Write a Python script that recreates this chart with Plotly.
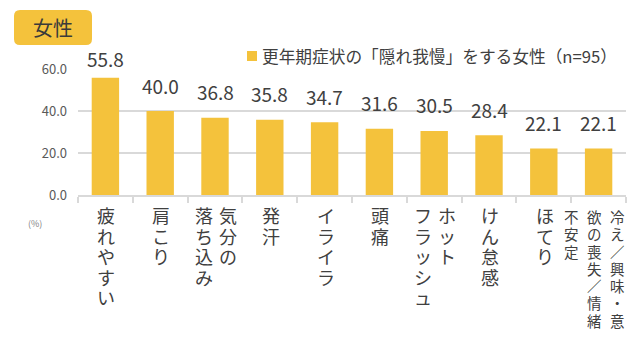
import plotly.graph_objects as go

# ---- data ----
categories = ["疲れやすい", "肩こり", "気分の\n落ち込み", "発汗", "イライラ", "頭痛",
              "ホット\nフラッシュ", "けん怠感", "ほてり", "冷え／興味・意\n欲の喪失／情緒\n不安定"]
values = [55.8, 40.0, 36.8, 35.8, 34.7, 31.6, 30.5, 28.4, 22.1, 22.1]
y_ticks = [0, 20, 40, 60]
series_name = "更年期症状の「隠れ我慢」をする女性（n=95）"
panel_title = "女性"
unit_label = "(%)"

# ---- style ----
W, H = 640, 341
L, R, T, B = 78, 14, 69, 146
PW, PH = W - L - R, H - T - B
BAR = "#F4C23C"
TXT = "#404040"
GRID = "#d9d9d9"
JP = "Noto Sans CJK JP, Noto Sans, sans-serif"
YMAX = 60


def px(x):
    return (x - L) / PW


def py(y):
    return (T + PH - y) / PH


cat_names = [c.replace("\n", "") for c in categories]

fig = go.Figure()
fig.add_trace(go.Bar(x=cat_names, y=values, name=series_name, marker=dict(color=BAR, line=dict(width=0)),
                     width=0.5, showlegend=False, hoverinfo="x+y"))

annotations = []

# data labels
for name, v in zip(cat_names, values):
    bar_top_px = T + PH - v / YMAX * PH
    shift = min(26, bar_top_px - 58.5)
    annotations.append(dict(x=name, y=v, xref="x", yref="y", text=f"{v:.1f}", showarrow=False,
                            xanchor="center", yanchor="middle", yshift=shift,
                            font=dict(family=JP, size=19, color=TXT)))

# vertical (tategaki) category labels: one annotation per column, one character per line.
# line pitch follows the annotation font size (1.3em); glyphs are drawn larger via span
for name, c in zip(cat_names, categories):
    cols = c.split("\n")
    n = len(cols)
    if n >= 3:
        base, glyph, spacing, off, top = 13.3, 14.5, 23, -4, 9
    else:
        base, glyph, spacing, off, top = 15.8, 18, 24, 1, 5
    for i, col in enumerate(cols):
        xs = off + ((n - 1) / 2 - i) * spacing
        txt = "<br>".join(f'<span style="font-size:{glyph}px">{ch}</span>' for ch in col)
        annotations.append(dict(x=name, y=0, xref="x", yref="y", text=txt, showarrow=False,
                                xanchor="center", yanchor="top", xshift=xs, yshift=-top,
                                align="center",
                                font=dict(family=JP, size=base, color=TXT)))

# unit label
annotations.append(dict(x=px(35), y=py(223), xref="paper", yref="paper", text=unit_label, showarrow=False,
                        xanchor="center", yanchor="middle", font=dict(family=JP, size=9, color="#7f7f7f")))

# legend text
annotations.append(dict(x=px(260), y=py(56), xref="paper", yref="paper", text=series_name, showarrow=False,
                        xanchor="left", yanchor="middle", font=dict(family=JP, size=16.7, color=TXT)))

# panel title
annotations.append(dict(x=px(53), y=py(27.5), xref="paper", yref="paper", text=panel_title, showarrow=False,
                        xanchor="center", yanchor="middle", font=dict(family=JP, size=20, color="#3a3a3a")))

# rounded title box
x0, x1, y0, y1, r = 14, 92, 10, 45, 6
path = (f"M {px(x0 + r)},{py(y0)} L {px(x1 - r)},{py(y0)} Q {px(x1)},{py(y0)} {px(x1)},{py(y0 + r)} "
        f"L {px(x1)},{py(y1 - r)} Q {px(x1)},{py(y1)} {px(x1 - r)},{py(y1)} "
        f"L {px(x0 + r)},{py(y1)} Q {px(x0)},{py(y1)} {px(x0)},{py(y1 - r)} "
        f"L {px(x0)},{py(y0 + r)} Q {px(x0)},{py(y0)} {px(x0 + r)},{py(y0)} Z")
shapes = [
    dict(type="path", path=path, xref="paper", yref="paper", fillcolor=BAR, line=dict(width=0), layer="below"),
    dict(type="rect", xref="paper", yref="paper", x0=px(247), x1=px(257), y0=py(51), y1=py(61),
         fillcolor=BAR, line=dict(width=0)),
]

fig.update_layout(
    width=W, height=H, margin=dict(l=L, r=R, t=T, b=B),
    paper_bgcolor="white", plot_bgcolor="white",
    annotations=annotations, shapes=shapes,
    xaxis=dict(type="category", range=[-0.5, len(categories) - 0.5], showline=True, linecolor=GRID,
               linewidth=1.5, ticks="outside", tickson="boundaries", ticklen=6, tickcolor=GRID,
               tickwidth=1.5, showticklabels=False, showgrid=False, fixedrange=True),
    yaxis=dict(range=[0, YMAX], tickvals=y_ticks, tickformat=".1f", showgrid=True, gridcolor=GRID,
               gridwidth=1.5, zeroline=False, showline=False, ticks="", ticklabelstandoff=10,
               tickfont=dict(family=JP, size=13, color="#595959"), fixedrange=True),
    showlegend=False,
)

fig.write_html("out.html")
